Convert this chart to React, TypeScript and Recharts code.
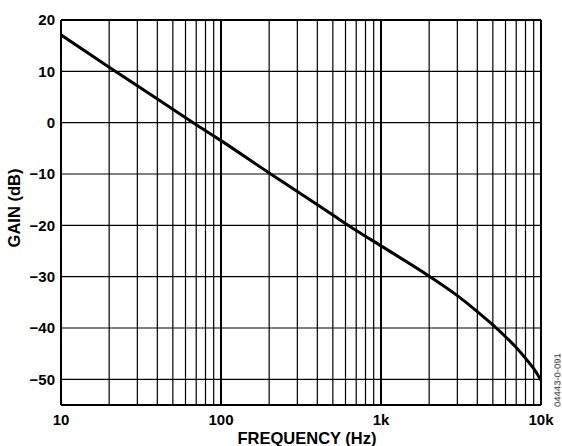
import React from "react";
import { Line, LineChart, ReferenceLine, XAxis, YAxis } from "recharts";

const freqHz = [10, 20, 30, 50, 70, 100, 200, 300, 500, 700, 1000, 2000, 3000, 4000, 5000, 6000, 7000, 8000, 9000, 9500, 10000];
const gainDb = [17.1, 10.8, 7.2, 2.6, -0.4, -3.5, -9.8, -13.4, -18, -21, -24, -29.9, -33.7, -36.8, -39.4, -41.7, -43.8, -45.9, -47.9, -49, -50.2];

const xTicks = [10, 100, 1000, 10000];
const xTickLabels = ["10", "100", "1k", "10k"];
const yTicks = [-50, -40, -30, -20, -10, 0, 10, 20];
const minorFreqs = [20, 30, 40, 50, 60, 70, 80, 90, 200, 300, 400, 500, 600, 700, 800, 900, 2000, 3000, 4000, 5000, 6000, 7000, 8000, 9000];

const data = freqHz.map((f, i) => ({ f, gain: gainDb[i] }));

const font = "'Liberation Sans', Arial, sans-serif";
const tickStyle = { fill: "#000", fontSize: 15, fontWeight: 700, fontFamily: font };
const titleStyle = { fill: "#000", fontSize: 16.5, fontWeight: 700, fontFamily: font };

export default function App() {
  return (
    <div style={{ position: "fixed", left: 0, top: 0, width: 562, height: 446, background: "#fff" }}>
      <LineChart width={562} height={446} data={data} margin={{ top: 20, right: 21, bottom: 0, left: 0 }}>
        <XAxis
          dataKey="f"
          type="number"
          scale="log"
          domain={[10, 10000]}
          ticks={xTicks}
          tickFormatter={(v: number) => xTickLabels[xTicks.indexOf(v)] ?? String(v)}
          tick={tickStyle}
          tickLine={false}
          axisLine={false}
          tickSize={4}
          tickMargin={5}
          height={41}
          allowDataOverflow
          label={{
            value: "FREQUENCY (Hz)",
            content: () => (
              <text x={307} y={444} textAnchor="middle" style={titleStyle}>
                FREQUENCY (Hz)
              </text>
            ),
          }}
        />
        <YAxis
          type="number"
          domain={[-55, 20]}
          ticks={yTicks}
          tickFormatter={(v: number) => (v < 0 ? "\u2212" + Math.abs(v) : String(v))}
          tick={tickStyle}
          tickLine={false}
          axisLine={false}
          tickSize={4}
          tickMargin={2}
          width={61}
          allowDataOverflow
          label={{
            value: "GAIN (dB)",
            content: () => (
              <text x={20} y={208} transform="rotate(-90 20 208)" textAnchor="middle" style={titleStyle}>
                GAIN (dB)
              </text>
            ),
          }}
        />
        {minorFreqs.map((f) => (
          <ReferenceLine key={"v" + f} x={f} stroke="#000" strokeWidth={1.2} />
        ))}
        {xTicks.map((f) => (
          <ReferenceLine key={"d" + f} x={f} stroke="#000" strokeWidth={2} />
        ))}
        {yTicks.map((g) => (
          <ReferenceLine key={"h" + g} y={g} stroke="#000" strokeWidth={1.2} />
        ))}
        <ReferenceLine y={-55} stroke="#000" strokeWidth={2} />
        <ReferenceLine y={20} stroke="#000" strokeWidth={2} />
        <Line
          type="monotone"
          dataKey="gain"
          stroke="#000"
          strokeWidth={3}
          dot={false}
          isAnimationActive={false}
        />
      </LineChart>
      <div
        style={{
          position: "absolute",
          left: 557,
          top: 380,
          transform: "translate(-50%, -50%) rotate(-90deg)",
          fontFamily: font,
          fontSize: 9.5,
          color: "#222",
          whiteSpace: "nowrap",
        }}
      >
        04443-0-091
      </div>
    </div>
  );
}
